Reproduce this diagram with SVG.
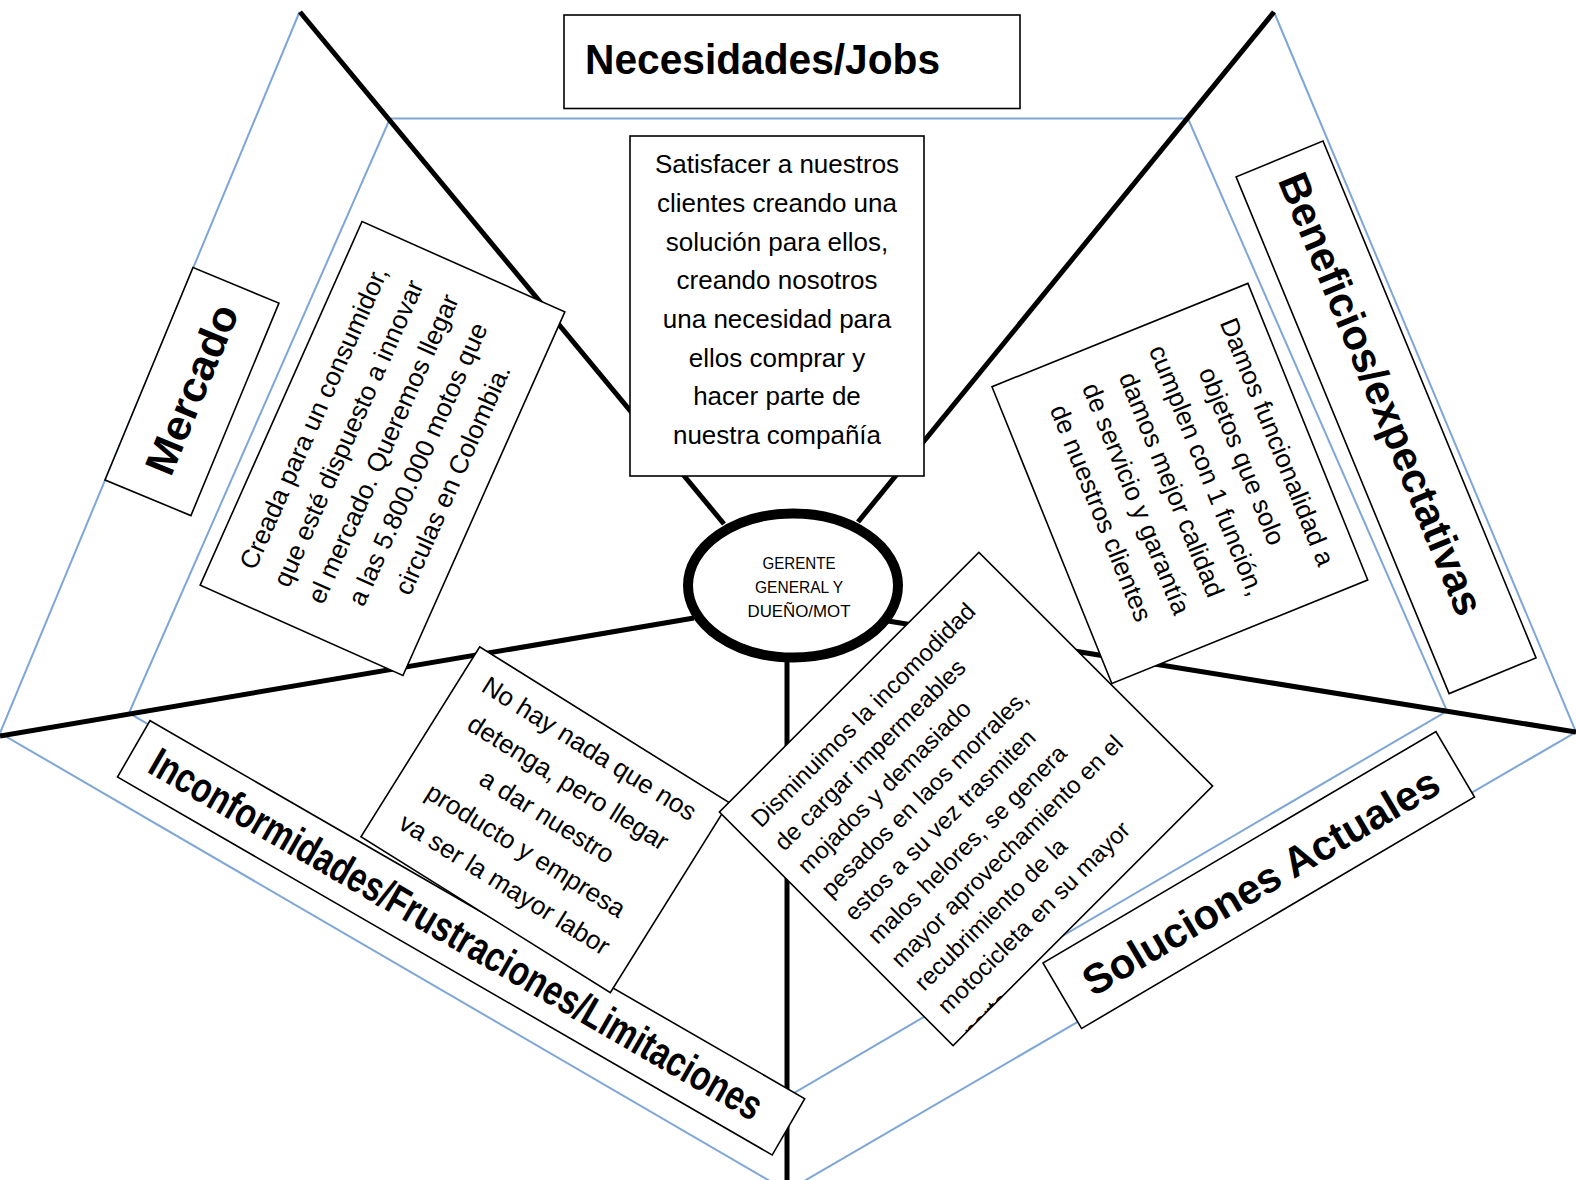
<svg xmlns="http://www.w3.org/2000/svg" width="1576" height="1180" viewBox="0 0 1576 1180">
<style>
.blue{fill:none;stroke:#7ea6d6;stroke-width:2}
.spoke{fill:none;stroke:#000;stroke-width:5;stroke-linecap:butt}
.box{fill:#fff;stroke:#000;stroke-width:1.6}
.lbl{font-family:"Liberation Sans",Arial,sans-serif;font-weight:bold;font-size:42px;fill:#000}
.txt{font-family:"Liberation Sans",Arial,sans-serif;font-size:26px;fill:#000}
.sm{font-family:"Liberation Sans",Arial,sans-serif;font-size:24px;fill:#000}
.cir{font-family:"Liberation Sans",Arial,sans-serif;font-size:16px;fill:#000}
.mid{text-anchor:middle}
</style>
<defs>
<clipPath id="clipDis" clipPathUnits="userSpaceOnUse"><rect x="-183.5" y="-165.25" width="367" height="330.5"/></clipPath>
</defs>
<rect x="0" y="0" width="1576" height="1180" fill="#fff"/>
<g id="connectors">
<path class="blue" d="M787,1191 L0,733 L299.5,12 M1274,12 L1576,732 L787,1191"/>
<polygon class="blue" points="129,713 390,118.6 1188,118.6 1447,711 787,1097"/>
<line class="spoke" x1="300" y1="12" x2="724" y2="524"/>
<line class="spoke" x1="1274" y1="12" x2="858" y2="522"/>
<line class="spoke" x1="0" y1="736" x2="694" y2="618"/>
<line class="spoke" x1="888" y1="621" x2="1576" y2="732"/>
<line class="spoke" x1="787" y1="655" x2="787" y2="1180"/>
</g>
<g id="necesidades">
<rect class="box" x="564" y="15" width="456" height="93.5" stroke-width="2"/>
<text class="lbl" x="585" y="74" textLength="355" lengthAdjust="spacingAndGlyphs">Necesidades/Jobs</text>
</g>
<g id="satisfacer">
<rect class="box" x="630" y="136" width="294" height="340"/>
<text class="txt mid" x="777" y="173">Satisfacer a nuestros</text>
<text class="txt mid" x="777" y="212">clientes creando una</text>
<text class="txt mid" x="777" y="250.5">solución para ellos,</text>
<text class="txt mid" x="777" y="289">creando nosotros</text>
<text class="txt mid" x="777" y="328">una necesidad para</text>
<text class="txt mid" x="777" y="367">ellos comprar y</text>
<text class="txt mid" x="777" y="405">hacer parte de</text>
<text class="txt mid" x="777" y="444">nuestra compañía</text>
</g>
<g id="centro">
<ellipse cx="793" cy="585.5" rx="105" ry="72" fill="#fff" stroke="#000" stroke-width="10"/>
<text class="cir mid" x="799" y="569" textLength="73" lengthAdjust="spacingAndGlyphs">GERENTE</text>
<text class="cir mid" x="799" y="593" textLength="88" lengthAdjust="spacingAndGlyphs">GENERAL Y</text>
<text class="cir mid" x="799" y="617" textLength="103" lengthAdjust="spacingAndGlyphs">DUEÑO/MOT</text>
</g>
<g id="mercado" transform="translate(105,480) rotate(-67.5)">
<rect class="box" x="0" y="0" width="230" height="93"/>
<text class="lbl" x="27" y="60" textLength="180" lengthAdjust="spacingAndGlyphs">Mercado</text>
</g>
<g id="creada" transform="translate(382.5,448.5) rotate(-66)">
<rect class="box" x="-199" y="-111" width="398" height="222"/>
<text class="txt mid" x="0" y="-66.5">Creada para un consumidor,</text>
<text class="txt mid" x="0" y="-28.5">que esté dispuesto a innovar</text>
<text class="txt mid" x="0" y="9.5">el mercado. Queremos llegar</text>
<text class="txt mid" x="0" y="47.5">a las 5.800.000 motos que</text>
<text class="txt mid" x="0" y="85.5">circulas en Colombia.</text>
</g>
<g id="beneficios" transform="translate(1323,141) rotate(67.6)">
<rect class="box" x="0" y="0" width="559" height="94"/>
<text class="lbl" x="19" y="57" textLength="474" lengthAdjust="spacingAndGlyphs">Beneficios/expectativas</text>
</g>
<g id="damos" transform="translate(1179.85,483.4) rotate(68)">
<rect class="box" x="-160" y="-138" width="320" height="276"/>
<text class="txt mid" x="-2" y="-97">Damos funcionalidad a</text>
<text class="txt mid" x="-2" y="-59">objetos que solo</text>
<text class="txt mid" x="-2" y="-21">cumplen con 1 función,</text>
<text class="txt mid" x="-2" y="17">damos mejor calidad</text>
<text class="txt mid" x="-2" y="55">de servicio y garantía</text>
<text class="txt mid" x="-2" y="93">de nuestros clientes</text>
</g>
<g id="inconformidades" transform="translate(150,720.7) rotate(30)">
<rect class="box" x="0" y="0" width="756" height="65"/>
<text class="lbl" x="22" y="46" font-size="38" textLength="700" lengthAdjust="spacingAndGlyphs">Inconformidades/Frustraciones/Limitaciones</text>
</g>
<g id="nohay" transform="translate(545,819.7) rotate(32)">
<rect class="box" x="-147" y="-112" width="294" height="224"/>
<text class="txt mid" x="0" y="-75">No hay nada que nos</text>
<text class="txt mid" x="0" y="-35">detenga, pero llegar</text>
<text class="txt mid" x="0" y="5">a dar nuestro</text>
<text class="txt mid" x="0" y="45">producto y empresa</text>
<text class="txt mid" x="0" y="85">va ser la mayor labor</text>
</g>
<g id="soluciones" transform="translate(1043,963) rotate(-30.5)">
<rect class="box" x="0" y="0" width="456" height="76"/>
<text class="lbl" x="26" y="55" textLength="406" lengthAdjust="spacingAndGlyphs">Soluciones Actuales</text>
</g>
<g id="disminuimos" transform="translate(966,799) rotate(-45)">
<rect class="box" x="-183.5" y="-165.25" width="367" height="330.5"/>
<g clip-path="url(#clipDis)">
<text class="sm" x="-166" y="-124">Disminuimos la incomodidad</text>
<text class="sm" x="-166" y="-91">de cargar impermeables</text>
<text class="sm" x="-166" y="-58">mojados y demasiado</text>
<text class="sm" x="-166" y="-25">pesados en laos morrales,</text>
<text class="sm" x="-166" y="8">estos a su vez trasmiten</text>
<text class="sm" x="-166" y="41">malos helores, se genera</text>
<text class="sm" x="-166" y="74">mayor aprovechamiento en el</text>
<text class="sm" x="-166" y="107">recubrimiento de la</text>
<text class="sm" x="-166" y="140">motocicleta en su mayor</text>
<text class="sm" x="-166" y="176">parte</text>
</g>
</g>
</svg>
